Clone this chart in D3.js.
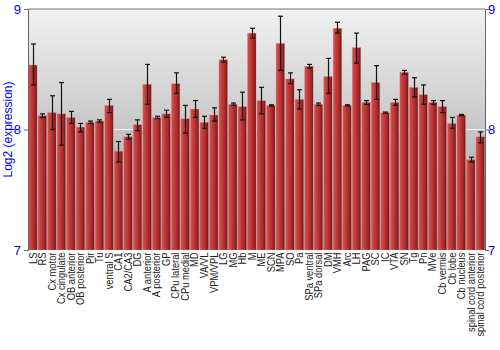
<!DOCTYPE html>
<html><head><meta charset="utf-8">
<script src="https://cdn.jsdelivr.net/npm/d3@7"></script>
<style>body{margin:0;background:#fff}svg{display:block}</style>
</head><body><div id="chart"></div>
<script>
const categories = ["LS","RS","Cx motor","Cx cingulate","OB anterior","OB posterior","Pir","Tu","ventral S","CA1","CA2/CA3","DG","A anterior","A posterior","GP","CPu lateral","CPu medial","MD","VA/VL","VPM/VPL","LG","MG","Hb","M","ME","SCN","MPA","SO","Pa","SPa ventral","SPa dorsal","DM","VMH","Arc","LH","PAG","SC","IC","VTA","SN","Tg","Pn","MVe","Cb vermis","Cb lobe","Cb nucleus","spinal cord anterior","spinal cord posterior"];
const values = [8.535,8.115,8.14,8.13,8.10,8.02,8.06,8.07,8.20,7.82,7.94,8.04,8.375,8.10,8.13,8.38,8.09,8.17,8.06,8.12,8.58,8.21,8.19,8.80,8.24,8.20,8.715,8.42,8.25,8.525,8.21,8.44,8.84,8.20,8.68,8.225,8.39,8.14,8.225,8.475,8.35,8.29,8.225,8.19,8.05,8.12,7.75,7.94];
const errLow = [8.37,8.10,8.00,7.87,8.05,7.98,8.05,8.06,8.14,7.73,7.92,7.99,8.21,8.09,8.10,8.30,7.97,8.10,8.01,8.07,8.56,8.20,8.08,8.76,8.13,8.195,8.49,8.38,8.17,8.51,8.20,8.30,8.80,8.195,8.55,8.21,8.25,8.135,8.20,8.46,8.27,8.21,8.21,8.14,8.01,8.115,7.73,7.89];
const errHigh = [8.71,8.13,8.28,8.39,8.15,8.05,8.07,8.08,8.25,7.90,7.96,8.08,8.54,8.11,8.16,8.47,8.20,8.24,8.11,8.18,8.60,8.22,8.31,8.84,8.35,8.205,8.94,8.47,8.33,8.54,8.22,8.59,8.89,8.205,8.80,8.24,8.53,8.145,8.25,8.49,8.43,8.37,8.24,8.24,8.10,8.125,7.77,7.98];
const yTicks = [7,8,9];

const W=500,H=350;
const m={l:28,r:15,t:9,b:100};
const svg=d3.select("#chart").append("svg").attr("width",W).attr("height",H);
const defs=svg.append("defs");
const bg=defs.append("linearGradient").attr("id","bg").attr("x1",0).attr("x2",0).attr("y1",0).attr("y2",1);
bg.append("stop").attr("offset","0%").attr("stop-color","#f2f2f2");
bg.append("stop").attr("offset","100%").attr("stop-color","#9a9a9a");
const bar=defs.append("linearGradient").attr("id","bar").attr("x1",0).attr("x2",1).attr("y1",0).attr("y2",0);
bar.append("stop").attr("offset","0%").attr("stop-color","#c85858");
bar.append("stop").attr("offset","35%").attr("stop-color","#c43c3c");
bar.append("stop").attr("offset","75%").attr("stop-color","#a82424");
bar.append("stop").attr("offset","100%").attr("stop-color","#6e1010");

const x=d3.scaleBand().domain(categories).range([m.l,W-m.r]).paddingInner(0.1).paddingOuter(0.05);
const y=d3.scaleLinear().domain([7,9]).range([H-m.b,m.t]);

svg.append("rect").attr("x",m.l).attr("y",m.t).attr("width",W-m.r-m.l).attr("height",H-m.b-m.t).attr("fill","url(#bg)");
svg.append("line").attr("x1",m.l).attr("x2",W-m.r).attr("y1",y(8)).attr("y2",y(8)).attr("stroke","#f4f4f4").attr("stroke-width",1);
svg.append("line").attr("x1",m.l).attr("x2",W-m.r).attr("y1",y(9)).attr("y2",y(9)).attr("stroke","#777");

svg.append("g").selectAll("rect").data(categories).join("rect")
 .attr("x",d=>x(d)).attr("width",x.bandwidth())
 .attr("y",(d,i)=>y(values[i])).attr("height",(d,i)=>y(7)-y(values[i]))
 .attr("fill","url(#bar)").attr("stroke","#e0a0a0").attr("stroke-opacity",0.5).attr("stroke-width",0.6);

const eg=svg.append("g").attr("stroke","#111").attr("stroke-width",1.2);
categories.forEach((c,i)=>{
  const cx=Math.round(x(c)+x.bandwidth()/2)+0.5;
  eg.append("line").attr("x1",cx).attr("x2",cx).attr("y1",y(errLow[i])).attr("y2",y(errHigh[i]));
  [errLow[i],errHigh[i]].forEach(v=>eg.append("line").attr("x1",cx-2.5).attr("x2",cx+2.5).attr("y1",y(v)).attr("y2",y(v)));
});

const la=svg.append("g").attr("transform",`translate(${m.l},0)`).call(d3.axisLeft(y).tickValues(yTicks).tickFormat(d3.format("d")).tickSize(4));
const ra=svg.append("g").attr("transform",`translate(${W-m.r},0)`).call(d3.axisRight(y).tickValues(yTicks).tickFormat(d3.format("d")).tickSize(4));
[la,ra].forEach(g=>{
  g.select(".domain").attr("stroke","#666");
  g.selectAll(".tick line").attr("stroke","#666");
  g.selectAll("text").attr("fill","#0000ee").style("font-family","Liberation Sans, Arial, sans-serif").style("font-size","13px");
});
la.selectAll("text").attr("x",-7);
ra.selectAll("text").attr("x",3);

const xa=svg.append("g").attr("transform",`translate(0,${H-m.b})`).call(d3.axisBottom(x).tickSize(0));
xa.select(".domain").remove();
xa.selectAll("text").attr("transform","rotate(-90) scale(0.85,1)").attr("text-anchor","end").attr("x",-3).attr("y",0).attr("dy","0.35em")
 .attr("fill","#222").style("font-family","Liberation Sans, Arial, sans-serif").style("font-size","11px");

svg.append("text").attr("transform",`translate(12,${(m.t+H-m.b)/2}) rotate(-90)`).attr("text-anchor","middle")
 .attr("fill","#0000ee").style("font-family","Liberation Sans, Arial, sans-serif").style("font-size","12px").text("Log2 (expression)");
</script></body></html>
